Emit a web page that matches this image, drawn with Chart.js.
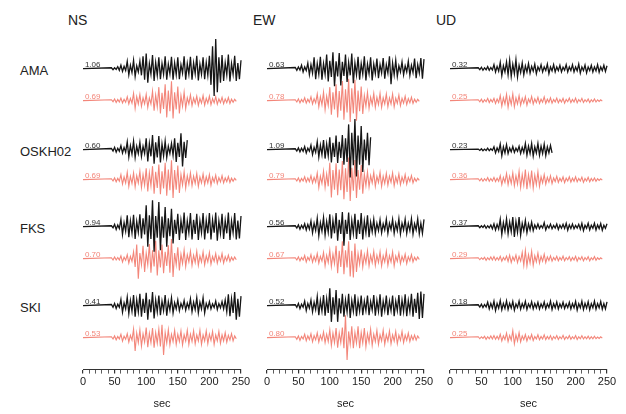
<!DOCTYPE html>
<html>
<head>
<meta charset="utf-8">
<script src="https://cdn.jsdelivr.net/npm/chart.js@4.4.1/dist/chart.umd.min.js"></script>
<style>
    body { margin: 0; width: 626px; height: 414px; background: #fff; position: relative; overflow: hidden;
           font-family: "Liberation Sans", Arial, sans-serif; color: #222; }
    canvas { position: absolute; top: 0; }
    .title { position: absolute; top: 12px; font-size: 14px; line-height: 16px; }
    .sta { position: absolute; left: 20px; font-size: 13px; line-height: 14px; }
</style>
</head>
<body>
<div class="title" style="left:68px">NS</div>
<div class="title" style="left:253px">EW</div>
<div class="title" style="left:436px">UD</div>
<div class="sta" style="top:64px">AMA</div>
<div class="sta" style="top:145px">OSKH02</div>
<div class="sta" style="top:222px">FKS</div>
<div class="sta" style="top:301px">SKI</div>
<canvas id="ns" width="198" height="414" style="left:63px"></canvas>
<canvas id="ew" width="197" height="414" style="left:247px"></canvas>
<canvas id="ud" width="197" height="414" style="left:430px"></canvas>
<script>
// waveforms: amplitude in 0.01, one sample every 2.5 s starting at 45 s (flat before)
const stations = ['AMA', 'OSKH02', 'FKS', 'SKI'];
const startSec = 45;
const dt = 2.5;

const peakObsNS = [1.06, 0.60, 0.94, 0.41];
const peakSynNS = [0.69, 0.69, 0.70, 0.53];
const peakObsEW = [0.63, 1.09, 0.56, 0.52];
const peakSynEW = [0.78, 0.79, 0.67, 0.80];
const peakObsUD = [0.32, 0.23, 0.37, 0.18];
const peakSynUD = [0.25, 0.36, 0.29, 0.25];

// ---- NS ----
const nsAmaObs = [3,-4,3,-3,7,-6,12,-10,8,-7, 26,-22,12,-14,30,-28,10,-12,26,-24,
    44,-40,54,-50,18,-20,48,-44,22,-24, 40,-38,18,-20,44,-40,16,-18,42,-40,
    20,-22,40,-38,14,-16,44,-40,18,-20, 42,-40,20,-18,46,-42,16,-20,40,-38,
    22,-24,46,-58,80,-98,106,-84,40,-50, 48,-44,20,-22,50,-46,18,-20,46,-44, 20,-38,30];
const nsAmaSyn = [3,-4,6,-7,4,-5,9,-8,5,-6, 14,-12,8,-9,26,-28,14,-12,22,-20,
    10,-12,22,-24,10,-12,34,-36,20,-22, 48,-46,28,-30,58,-60,36,-38,69,-64,
    30,-32,50,-46,18,-20,30,-28,10,-12, 20,-18,9,-10,16,-17,8,-9,18,-16,
    8,-9,16,-15,7,-8,14,-13,6,-7, 12,-11,6,-7,11,-10,5,-6,5,-3];
const nsOskObs = [4,-5,8,-9,5,-6,14,-12,8,-9, 28,-26,14,-16,30,-28,12,-14,26,-24,
    12,-14,40,-42,22,-24,52,-50,26,-28, 48,-46,20,-22,30,-28,12,-14,22,-20,
    40,-44,24,-26,58,-60,28,-30,34];
const nsOskSyn = [3,-5,6,-8,5,-6,18,-16,10,-12, 26,-24,12,-14,24,-26,14,-12,30,-28,
    18,-20,40,-42,24,-22,48,-50,28,-30, 54,-52,30,-32,60,-58,36,-38,69,-66,
    34,-36,50,-48,18,-20,28,-30,14,-16, 24,-22,12,-14,22,-24,10,-12,20,-18,
    10,-12,18,-20,8,-9,16,-14,7,-8, 14,-12,6,-7,11,-10,5,-6,5,-3];
const nsFksObs = [3,-4,8,-10,6,-7,26,-28,14,-16, 40,-38,20,-22,42,-44,18,-20,44,-42,
    30,-28,76,-72,40,-44,94,-90,38,-40, 88,-84,36,-40,70,-72,30,-34,64,-60,
    24,-26,46,-48,22,-24,50,-48,20,-22, 48,-46,24,-26,46,-48,20,-22,48,-46,
    22,-24,48,-46,24,-22,50,-50,20,-24, 46,-44,22,-24,50,-48,20,-22,48,-46, 22,-42,38];
const nsFksSyn = [3,-5,6,-5,4,-5,10,-12,5,-6, 14,-16,8,-10,24,-30,50,-72,20,-22,
    46,-48,20,-22,52,-50,30,-28,64,-60, 30,-32,50,-52,24,-26,48,-50,70,-66,
    20,-22,40,-42,16,-18,30,-28,14,-12, 26,-24,12,-14,26,-24,10,-12,24,-22,
    10,-12,22,-20,8,-10,18,-16,8,-9, 18,-16,7,-8,12,-10,5,-6,6,-4];
const nsSkiObs = [4,-6,8,-10,5,-6,22,-24,10,-12, 30,-28,18,-20,38,-40,20,-22,42,-40,
    24,-26,46,-50,22,-24,48,-46,20,-22, 36,-34,16,-18,38,-36,14,-16,28,-26,
    10,-12,20,-18,8,-9,18,-16,9,-10, 24,-22,12,-14,28,-26,12,-12,28,-26,
    8,-9,14,-12,6,-7,16,-14,7,-8, 14,-12,20,-22,40,-38,24,-26,48,-50, 24,-40,34];
const nsSkiSyn = [3,-5,6,-8,4,-5,12,-13,5,-6, 14,-16,8,-9,30,-48,16,-18,28,-30,
    14,-16,36,-34,16,-18,34,-36,18,-20, 30,-32,46,-62,18,-20,28,-26,12,-14,
    26,-24,12,-14,24,-26,10,-12,26,-24, 12,-14,24,-22,10,-12,26,-24,10,-12,
    24,-22,12,-10,22,-24,10,-12,22,-20, 10,-12,18,-16,8,-9,14,-12,6,-4];

// ---- EW ----
const ewAmaObs = [4,-6,6,-5,12,-12,6,-7,20,-22, 14,-16,40,-38,18,-20,42,-40,18,-20,
    50,-46,28,-30,58,-63,26,-28,56,-60, 24,-26,50,-48,22,-24,54,-52,20,-22,
    42,-40,18,-20,44,-42,16,-18,40,-42, 16,-18,36,-34,14,-16,38,-36,14,-16,
    44,-56,20,-22,30,-28,10,-12,24,-22, 10,-12,26,-24,12,-14,36,-34,14,-16, 38,-36,34];
const ewAmaSyn = [3,-5,6,-8,4,-5,10,-9,5,-6, 14,-12,7,-8,24,-22,14,-15,30,-32,
    16,-18,48,-50,30,-32,58,-60,34,-36, 70,-68,40,-42,78,-76,44,-46,74,-72,
    36,-38,50,-48,18,-20,30,-28,12,-14, 26,-24,12,-14,26,-24,10,-12,24,-22,
    10,-12,24,-22,9,-10,20,-18,8,-9, 16,-14,7,-8,12,-10,5,-6,5,-3];
const ewOskObs = [3,-5,6,-8,5,-6,11,-12,5,-6, 16,-18,8,-10,28,-26,16,-18,34,-32,
    20,-22,44,-46,24,-26,50,-48,28,-30, 52,-54,40,-44,90,-100,60,-56,109,-96,
    50,-54,84,-80,36,-38,60,-56,44];
const ewOskSyn = [3,-5,6,-8,4,-5,10,-9,6,-7, 14,-12,8,-9,24,-28,12,-14,30,-28,
    20,-24,60,-64,34,-36,58,-56,36,-38, 66,-70,40,-44,79,-76,42,-40,70,-66,
    34,-36,52,-50,20,-22,28,-26,14,-12, 26,-24,12,-10,26,-24,12,-14,22,-20,
    12,-10,24,-22,10,-12,20,-18,9,-10, 18,-16,8,-7,14,-12,5,-6,5,-3];
const ewFksObs = [3,-5,6,-9,5,-6,10,-12,8,-9, 20,-22,12,-14,30,-32,14,-16,32,-30,
    18,-20,44,-42,22,-24,48,-50,24,-26, 52,-68,24,-26,50,-48,22,-24,46,-44,
    24,-26,48,-46,20,-22,40,-38,16,-18, 26,-24,12,-14,24,-22,10,-12,26,-24,
    12,-10,26,-24,12,-14,28,-26,12,-12, 26,-24,12,-14,28,-26,10,-12,28,-26, 12,-24,26];
const ewFksSyn = [3,-5,6,-8,4,-5,11,-12,5,-6, 14,-13,8,-9,18,-16,8,-9,22,-26,
    12,-14,30,-28,16,-18,46,-52,28,-30, 62,-56,30,-32,62,-64,28,-67,54,-48,
    18,-20,32,-30,14,-16,28,-26,12,-14, 26,-24,12,-14,24,-26,10,-12,26,-24,
    10,-12,24,-26,9,-10,20,-18,8,-9, 16,-18,7,-8,14,-12,5,-6,6,-3];
const ewSkiObs = [3,-6,8,-11,5,-6,16,-18,8,-9, 20,-22,12,-14,32,-34,18,-20,38,-36,
    24,-26,62,-58,30,-32,56,-58,26,-28, 42,-40,20,-22,42,-44,18,-20,40,-38,
    18,-20,36,-34,16,-18,36,-34,14,-16, 38,-36,18,-20,40,-40,16,-18,36,-34,
    16,-18,36,-38,16,-18,38,-36,20,-22, 40,-38,18,-20,42,-40,24,-26,46,-48, 50,-44,42];
const ewSkiSyn = [3,-6,6,-10,4,-5,12,-11,6,-7, 14,-15,7,-8,17,-16,8,-9,20,-18,
    12,-14,28,-28,16,-18,34,-36,16,-18, 36,-38,80,-80,22,-24,40,-38,18,-20,
    40,-38,18,-20,34,-32,14,-16,30,-28, 12,-14,26,-24,10,-12,26,-24,10,-12,
    24,-22,10,-12,22,-22,9,-10,22,-18, 9,-10,16,-14,7,-8,9,-9,6,-3];

// ---- UD ----
const udAmaObs = [3,-4,5,-6,3,-4,7,-6,4,-5, 14,-12,8,-9,22,-25,10,-12,24,-22,
    30,-28,16,-18,32,-30,12,-14,20,-22, 10,-12,18,-16,8,-9,16,-18,6,-7,
    14,-12,6,-7,16,-18,6,-8,14,-12, 6,-7,12,-12,5,-6,14,-12,6,-7,
    14,-12,6,-8,16,-16,6,-7,13,-15, 6,-7,12,-12,6,-8,14,-13,6,-7, 12,-10,10];
const udAmaSyn = [3,-4,5,-6,3,-4,8,-7,4,-5, 8,-10,6,-7,18,-20,10,-12,22,-24,
    12,-14,24,-22,10,-12,18,-16,8,-9, 14,-16,6,-7,15,-12,6,-7,12,-10,
    5,-6,13,-10,5,-6,10,-9,4,-5, 9,-8,4,-5,8,-9,4,-4,9,-7,
    4,-5,9,-8,4,-4,8,-7,3,-4, 6,-7,3,-4,6,-5,3,-3,3,-2];
const udOskObs = [2,-3,3,-4,2,-3,5,-4,3,-3, 10,-12,6,-7,20,-22,10,-12,18,-14,
    6,-8,11,-10,5,-6,12,-14,8,-10, 22,-20,12,-14,22,-23,10,-12,22,-20,
    12,-14,20,-21,10,-12,15,-12];
const udOskSyn = [3,-4,4,-6,3,-4,7,-6,4,-5, 8,-7,5,-6,14,-18,8,-10,22,-18,
    12,-14,24,-22,14,-16,30,-28,18,-20, 36,-34,18,-20,32,-30,16,-18,28,-24,
    10,-12,18,-16,8,-9,14,-14,6,-7, 12,-10,5,-6,10,-11,5,-5,10,-9,
    5,-6,10,-8,4,-5,9,-10,4,-5, 8,-8,4,-5,6,-6,3,-3,3,-2];
const udFksObs = [3,-4,3,-3,5,-6,3,-4,6,-8, 10,-12,8,-9,26,-28,14,-16,28,-25,
    16,-18,34,-37,18,-20,34,-30,12,-14, 22,-22,10,-12,16,-14,6,-7,9,-7,
    4,-5,14,-12,4,-5,9,-8,4,-5, 9,-10,5,-6,8,-7,12,-13,6,-7,
    9,-8,4,-5,8,-9,12,-14,5,-6, 12,-12,5,-6,12,-12,6,-7,11,-13, 5,-6,10];
const udFksSyn = [3,-4,3,-3,5,-6,3,-4,6,-5, 7,-6,4,-5,8,-9,4,-5,9,-10,
    12,-14,6,-7,13,-14,8,-9,22,-24, 29,-26,14,-16,26,-24,10,-12,20,-16,
    8,-9,16,-14,6,-7,10,-9,4,-5, 8,-8,4,-5,9,-8,4,-4,7,-8,
    4,-5,8,-9,4,-4,7,-8,4,-4, 7,-8,3,-4,7,-6,3,-3,3,-2];
const udSkiObs = [3,-5,5,-7,4,-5,12,-12,8,-9, 16,-18,8,-9,18,-15,8,-10,17,-14,
    8,-9,15,-16,6,-7,16,-13,7,-8, 15,-14,6,-7,14,-12,7,-8,12,-12,
    6,-7,13,-12,6,-7,16,-14,7,-8, 13,-12,6,-7,12,-10,6,-7,12,-12,
    7,-8,15,-16,7,-8,16,-14,8,-9, 14,-15,7,-8,16,-13,7,-8,15,-13, 7,-12,13];
const udSkiSyn = [3,-4,3,-3,5,-6,3,-4,6,-5, 7,-6,5,-6,12,-12,6,-7,16,-14,
    8,-9,25,-22,10,-12,18,-15,6,-7, 11,-12,5,-6,11,-10,4,-5,10,-8,
    4,-5,10,-7,4,-5,7,-8,4,-4, 7,-7,3,-4,8,-7,3,-4,7,-6,
    3,-4,7,-7,3,-4,7,-5,3,-4, 5,-5,3,-4,5,-4,2,-3,3,-2];

// layout: baselines measured in pixels up from the time axis
const obsRow = [301, 220, 143, 64];
const synRow = [269, 190, 111, 32];
const pxPerUnit = 0.28;          // pixels per 0.01 of amplitude
const obsColor = '#151515';
const synColor = '#f3867a';
const fontFamily = '"Liberation Sans", Arial, sans-serif';

function tracePoints(vals, base) {
    const pts = [{ x: 0, y: base }];
    vals.forEach((v, i) => pts.push({ x: startSec + i * dt, y: base + v * pxPerUnit }));
    return pts;
}

const ampLabels = {
    id: 'ampLabels',
    afterDatasetsDraw(chart, args, opts) {
        const ctx = chart.ctx;
        const xs = chart.scales.x, ys = chart.scales.y;
        ctx.save();
        ctx.font = '8px ' + fontFamily;
        ctx.textAlign = 'left';
        ctx.textBaseline = 'alphabetic';
        stations.forEach((s, i) => {
            ctx.fillStyle = '#333';
            ctx.fillText(opts.obs[i].toFixed(2), xs.getPixelForValue(3), ys.getPixelForValue(obsRow[i]) - 2);
            ctx.fillStyle = synColor;
            ctx.fillText(opts.syn[i].toFixed(2), xs.getPixelForValue(3), ys.getPixelForValue(synRow[i]) - 2);
        });
        ctx.restore();
    }
};

function makePanel(id, obsList, synList, obsPeak, synPeak) {
    const datasets = [];
    // black traces first so they are painted on top of the red ones
    obsList.forEach((vals, i) => datasets.push({
        data: tracePoints(vals, obsRow[i]), borderColor: obsColor, borderWidth: 1.3,
        pointRadius: 0, tension: 0, fill: false
    }));
    synList.forEach((vals, i) => datasets.push({
        data: tracePoints(vals, synRow[i]), borderColor: synColor, borderWidth: 1.1,
        pointRadius: 0, tension: 0, fill: false
    }));
    const chart = new Chart(document.getElementById(id), {
        type: 'line',
        data: { datasets: datasets },
        plugins: [ampLabels],
        options: {
            responsive: false,
            animation: false,
            events: [],
            clip: false,
            layout: { padding: { left: 20, right: 20, top: 30, bottom: 0 } },
            plugins: {
                legend: { display: false },
                tooltip: { enabled: false },
                ampLabels: { obs: obsPeak, syn: synPeak }
            },
            scales: {
                x: {
                    type: 'linear', min: 0, max: 250,
                    grid: {
                        drawOnChartArea: false, drawTicks: true, tickLength: 4, color: '#333',
                        lineWidth: c => (c.tick && c.tick.value % 50 === 0) ? 1.2 : 0.8
                    },
                    border: { display: true, color: '#333', width: 1 },
                    ticks: {
                        stepSize: 10, autoSkip: false, maxRotation: 0, padding: 2, color: '#222',
                        font: { size: 11, family: fontFamily },
                        callback: v => (v % 50 === 0 ? v : '')
                    },
                    title: { display: true, text: 'sec', color: '#222', padding: { top: 7, bottom: 3 },
                             font: { size: 11, family: fontFamily } }
                },
                y: { display: false, min: 0, max: 340 }
            }
        }
    });
    // one y unit = one pixel
    chart.options.scales.y.max = chart.chartArea.bottom - chart.chartArea.top;
    chart.update();
}

makePanel('ns', [nsAmaObs, nsOskObs, nsFksObs, nsSkiObs], [nsAmaSyn, nsOskSyn, nsFksSyn, nsSkiSyn], peakObsNS, peakSynNS);
makePanel('ew', [ewAmaObs, ewOskObs, ewFksObs, ewSkiObs], [ewAmaSyn, ewOskSyn, ewFksSyn, ewSkiSyn], peakObsEW, peakSynEW);
makePanel('ud', [udAmaObs, udOskObs, udFksObs, udSkiObs], [udAmaSyn, udOskSyn, udFksSyn, udSkiSyn], peakObsUD, peakSynUD);
</script>
</body>
</html>
